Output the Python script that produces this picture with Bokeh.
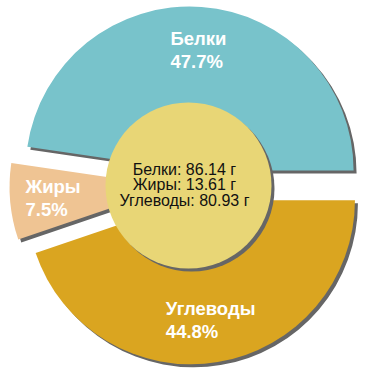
import math
from bokeh.plotting import figure
from bokeh.models import Range1d, ColumnDataSource
from bokeh.embed import file_html
from bokeh.resources import INLINE
from bokeh.core.properties import value

categories = ["Белки", "Жиры", "Углеводы"]
grams = [86.14, 13.61, 80.93]
colors = ["#78C3CB", "#EFC493", "#DAA520"]
unit = "г"

CX, CY = 188, 185
R = 164
EXPLODE = 15
R_IN = 83
SH = 3
LABEL_R = 121
FONT = "Liberation Sans"

total = sum(grams)
fracs = [g / total for g in grams]
starts, ends, xs, ys, lx, ly = [], [], [], [], [], []
acc = 0.0
for f in fracs:
    s = acc * 2 * math.pi
    e = (acc + f) * 2 * math.pi
    mid = (s + e) / 2
    ax = CX + EXPLODE * math.cos(mid)
    ay = CY + EXPLODE * math.sin(mid)
    starts.append(s); ends.append(e); xs.append(ax); ys.append(ay)
    lx.append(ax + LABEL_R * math.cos(mid)); ly.append(ay + LABEL_R * math.sin(mid))
    acc += f

labels = [f"{c}\n{f*100:.1f}%" for c, f in zip(categories, fracs)]

src = ColumnDataSource(dict(x=xs, y=ys, sx=[x + SH for x in xs], sy=[y - SH for y in ys],
                            start=starts, end=ends, color=colors, lx=lx, ly=ly, label=labels))

p = figure(width=370, height=370, x_range=Range1d(0, 370), y_range=Range1d(0, 370),
           x_axis_type=None, y_axis_type=None, toolbar_location=None, output_backend="svg",
           min_border=0, outline_line_color=None, background_fill_color="white")
p.grid.visible = False

p.wedge(x="sx", y="sy", radius=R, start_angle="start", end_angle="end",
        fill_color="#666666", line_color=None, source=src)
p.wedge(x="x", y="y", radius=R, start_angle="start", end_angle="end",
        fill_color="color", line_color=None, source=src)

p.circle(x=[CX + SH], y=[CY - SH], radius=R_IN, fill_color="#666666", line_color=None)
p.circle(x=[CX], y=[CY], radius=R_IN, fill_color="#E8D676", line_color=None)

p.text(x="lx", y="ly", text="label", source=src, text_font=value(FONT),
       text_font_size="18.5px", text_font_style="bold", text_color="white",
       text_align="left", anchor="center", text_line_height=1.1)

lines = [f"{c}: {g:.2f} {unit}" for c, g in zip(categories, grams)]
n = len(lines)
LH = 15.5
cy_lines = [CY + 1 + (n - 1) / 2 * LH - i * LH for i in range(n)]
p.text(x=[CX - 4] * n, y=cy_lines, text=lines, text_font=value(FONT),
       text_font_size="16px", text_color="#111111", text_align="center",
       text_baseline="middle")

open("out.html", "w").write(file_html(p, INLINE))
